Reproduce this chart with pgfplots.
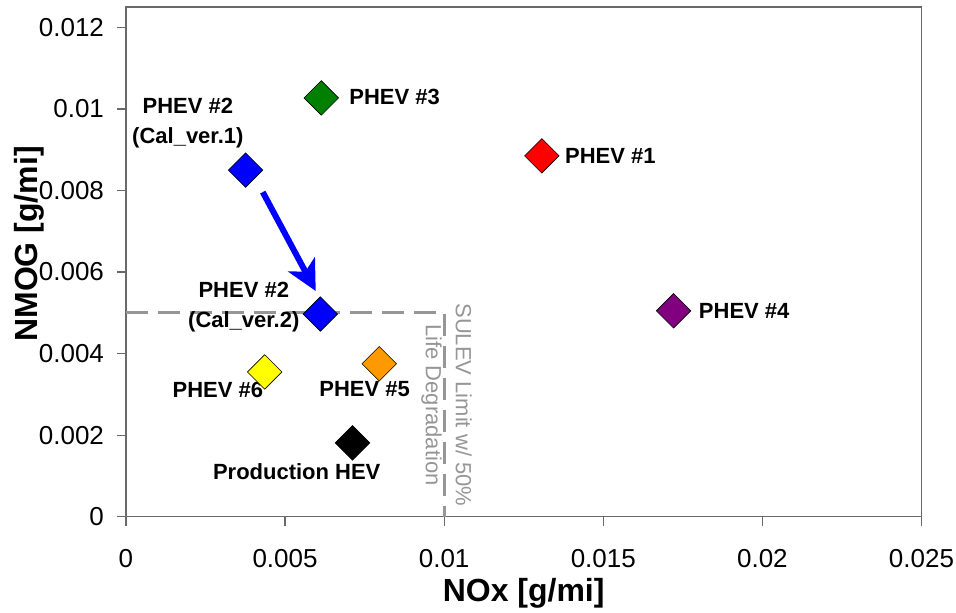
\documentclass[border=0pt]{standalone}
\usepackage{fontspec}
\setmainfont{Liberation Sans}
\usepackage{pgfplots}
\pgfplotsset{compat=1.18}
\usetikzlibrary{arrows.meta,calc}
\definecolor{limgray}{RGB}{150,150,150}
\definecolor{framegray}{RGB}{105,105,105}
\definecolor{pgreen}{RGB}{0,128,0}
\definecolor{porange}{RGB}{255,153,0}
\definecolor{ppurple}{RGB}{128,0,128}
\definecolor{pyellow}{RGB}{255,255,0}
\definecolor{pblue}{RGB}{0,0,255}
\definecolor{pred}{RGB}{255,0,0}
\pgfplotsset{
  dmark/.style={only marks, mark=square*, mark size=6.1pt,
    mark options={rotate=45, fill=#1, draw=black, line width=0.3pt}},
}
\begin{document}
\begin{tikzpicture}
\begin{axis}[
  scale only axis, width=398pt, height=255pt,
  xmin=0, xmax=0.025, ymin=0, ymax=0.0125,
  xtick={0,0.005,0.01,0.015,0.02,0.025},
  xticklabels={0,0.005,0.01,0.015,0.02,0.025},
  ytick={0,0.002,0.004,0.006,0.008,0.01,0.012},
  yticklabels={0,0.002,0.004,0.006,0.008,0.01,0.012},
  scaled ticks=false,
  /pgf/number format/assume math mode=true,
  tick align=outside, tick pos=left,
  major tick length=4.5pt,
  axis line style={framegray, line width=0.6pt},
  every tick/.style={framegray, line width=0.6pt},
  tick label style={font=\fontsize{13}{15}\selectfont, text=black, inner sep=1pt},
  xticklabel style={yshift=-10.8pt},
  yticklabel style={xshift=-5.3pt},
  clip=false,
]
\coordinate (sw) at (rel axis cs:0,0);
\coordinate (ne) at (rel axis cs:1,1);
% SULEV limit lines
\addplot[limgray, line width=1.5pt, dash pattern=on 11pt off 5pt] coordinates {(0,0.005) (0.01,0.005) (0.01,0)};
% arrow
\addplot[pblue, line width=3pt, -{Stealth[length=15pt,width=15pt,inset=4pt]}] coordinates {(0.0043,0.00796) (0.005964,0.005535)};
% points
\addplot[dmark=pred] coordinates {(0.01307,0.00885)};
\addplot[dmark=pblue] coordinates {(0.00376,0.0085)};
\addplot[dmark=pgreen] coordinates {(0.00614,0.01027)};
\addplot[dmark=ppurple] coordinates {(0.01721,0.00505)};
\addplot[dmark=porange] coordinates {(0.00796,0.00375)};
\addplot[dmark=pyellow] coordinates {(0.00436,0.00355)};
\addplot[dmark=pblue] coordinates {(0.00611,0.00497)};
\addplot[dmark=black] coordinates {(0.00712,0.00181)};
% labels
\tikzset{lbl/.style={font=\bfseries\fontsize{11}{15}\selectfont, align=center, inner sep=0pt}}
\node[lbl] at (axis cs:0.008444,0.010286) {PHEV \#3};
\node[lbl] at (axis cs:0.001946,0.009649) {PHEV \#2\\(Cal\_ver.1)};
\node[lbl] at (axis cs:0.015223,0.008841) {PHEV \#1};
\node[lbl] at (axis cs:0.019429,0.005045) {PHEV \#4};
\node[lbl] at (axis cs:0.003704,0.005131) {PHEV \#2\\(Cal\_ver.2)};
\node[lbl] at (axis cs:0.002888,0.00311) {PHEV \#6};
\node[lbl] at (axis cs:0.007501,0.003135) {PHEV \#5};
\node[lbl] at (axis cs:0.005367,0.001102) {Production HEV};
\node[rotate=-90, align=center, inner sep=0pt, font=\fontsize{11}{15}\selectfont, text=limgray] at (axis cs:0.010075,0.002743) {SULEV Limit w/ 50\%\\Life Degradation};
% axis labels
\node[rotate=90, anchor=base, inner sep=0pt, font=\bfseries\fontsize{16}{19}\selectfont] at ($(rel axis cs:0,0.535)+(-44pt,0)$) {NMOG [g/mi]};
\node[anchor=base, inner sep=0pt, font=\bfseries\fontsize{16}{19}\selectfont] at ($(rel axis cs:0.5,0)+(0,-42.5pt)$) {NOx [g/mi]};
\end{axis}
\path ($(sw)+(-63pt,-48pt)$) rectangle ($(ne)+(17pt,3.5pt)$);
\end{tikzpicture}
\end{document}
